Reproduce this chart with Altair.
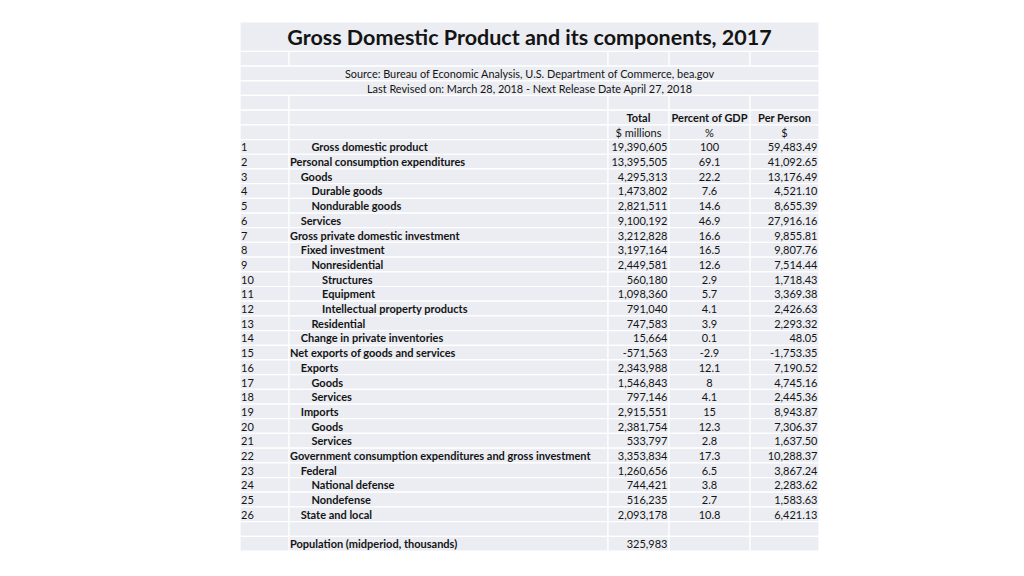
import altair as alt
import pandas as pd

# ---------------- data ----------------
title = "Gross Domestic Product and its components, 2017"
source_lines = [
    "Source: Bureau of Economic Analysis, U.S. Department of Commerce, bea.gov",
    "Last Revised on: March 28, 2018 - Next Release Date April 27, 2018",
]
headers = ["Total", "Percent of GDP", "Per Person"]
units = ["$ millions", "%", "$"]
line_nums = [str(i) for i in range(1, 27)]
labels = [
    "Gross domestic product",
    "Personal consumption expenditures",
    "Goods",
    "Durable goods",
    "Nondurable goods",
    "Services",
    "Gross private domestic investment",
    "Fixed investment",
    "Nonresidential",
    "Structures",
    "Equipment",
    "Intellectual property products",
    "Residential",
    "Change in private inventories",
    "Net exports of goods and services",
    "Exports",
    "Goods",
    "Services",
    "Imports",
    "Goods",
    "Services",
    "Government consumption expenditures and gross investment",
    "Federal",
    "National defense",
    "Nondefense",
    "State and local",
]
levels = [2, 0, 1, 2, 2, 1, 0, 1, 2, 3, 3, 3, 2, 1, 0, 1, 2, 2, 1, 2, 2, 0, 1, 2, 2, 1]
totals = [19390605, 13395505, 4295313, 1473802, 2821511, 9100192, 3212828, 3197164,
          2449581, 560180, 1098360, 791040, 747583, 15664, -571563, 2343988, 1546843,
          797146, 2915551, 2381754, 533797, 3353834, 1260656, 744421, 516235, 2093178]
pct_gdp = [100, 69.1, 22.2, 7.6, 14.6, 46.9, 16.6, 16.5, 12.6, 2.9, 5.7, 4.1, 3.9, 0.1,
           -2.9, 12.1, 8, 4.1, 15, 12.3, 2.8, 17.3, 6.5, 3.8, 2.7, 10.8]
per_person = [59483.49, 41092.65, 13176.49, 4521.10, 8655.39, 27916.16, 9855.81, 9807.76,
              7514.44, 1718.43, 3369.38, 2426.63, 2293.32, 48.05, -1753.35, 7190.52,
              4745.16, 2445.36, 8943.87, 7306.37, 1637.50, 10288.37, 3867.24, 2283.62,
              1583.63, 6421.13]
pop_label = "Population (midperiod, thousands)"
pop_value = 325983

# ---------------- layout ----------------
W, H = 579, 529
N_ROWS = 36
COL_EDGES = [0, 49, 368, 429, 510, 579]
INDENT = 10.7
FILL = "#ebedf2"
INK = "#141414"
FONT = "Lato"
FS = 11
DY = 1.5

cells = []
def full(r0, r1):
    cells.append(dict(x=COL_EDGES[0], x2=COL_EDGES[-1], y=r0, y2=r1))
def split(r):
    for a, b in zip(COL_EDGES[:-1], COL_EDGES[1:]):
        cells.append(dict(x=a, x2=b, y=r, y2=r + 1))

full(0, 2)
split(2)
full(3, 4)
full(4, 5)
for r in range(5, N_ROWS):
    split(r)
cells_df = pd.DataFrame(cells)

DATA_ROW0 = 8
c_label = COL_EDGES[1] + 1
c_tot_r = COL_EDGES[3] - 1.5
c_tot_c = (COL_EDGES[2] + COL_EDGES[3]) / 2
c_pct_c = (COL_EDGES[3] + COL_EDGES[4]) / 2
c_pp_r = COL_EDGES[5] - 1.5
c_pp_c = (COL_EDGES[4] + COL_EDGES[5]) / 2

rows_df = pd.DataFrame({
    "num": line_nums,
    "label": labels,
    "level": levels,
    "total": totals,
    "pct": pct_gdp,
    "pp": per_person,
})
rows_df["y"] = [DATA_ROW0 + i + 0.5 for i in range(len(rows_df))]
rows_df["xl"] = [c_label + INDENT * l for l in levels]
rows_df["xn"] = 1
rows_df["xt"] = c_tot_r
rows_df["xp"] = c_pct_c
rows_df["xpp"] = c_pp_r

pop_df = pd.DataFrame({"label": [pop_label], "total": [pop_value],
                       "y": [N_ROWS - 0.5], "xl": [c_label], "xt": [c_tot_r]})

title_df = pd.DataFrame({"t": [title], "x": [W / 2], "y": [1.0]})
src_df = pd.DataFrame({"t": source_lines, "x": [W / 2] * 2, "y": [3.5, 4.5]})
hdr_df = pd.DataFrame({"t": headers, "x": [c_tot_c, c_pct_c, c_pp_c], "y": [6.5] * 3})
unit_df = pd.DataFrame({"t": units, "x": [c_tot_c, c_pct_c, c_pp_c], "y": [7.5] * 3})

xs = alt.Scale(domain=[0, W], nice=False, zero=False)
ys = alt.Scale(domain=[0, N_ROWS], nice=False, zero=False, reverse=True)

def X(f):
    return alt.X(f, type="quantitative", scale=xs, axis=None)
def Y(f):
    return alt.Y(f, type="quantitative", scale=ys, axis=None)

grid = alt.Chart(cells_df).mark_rect(fill=FILL, stroke="white", strokeWidth=1.2).encode(
    x=X("x"), x2="x2", y=Y("y"), y2="y2")

def txt(df, field, xf, align="left", bold=False, size=FS, fmt=None, dy=DY):
    mk = alt.Chart(df).mark_text(align=align, baseline="middle", font=FONT, fontSize=size,
                                 fontWeight="bold" if bold else "normal", color=INK, dy=dy)
    if fmt:
        expr = "replace(format(datum['%s'], '%s'), '\u2212', '-')" % (field, fmt)
        mk = mk.transform_calculate(txtv=expr)
        t = alt.Text("txtv", type="nominal")
    else:
        t = alt.Text(field, type="nominal")
    return mk.encode(x=X(xf), y=Y("y"), text=t)

layers = [
    grid,
    txt(title_df, "t", "x", align="center", bold=True, size=21.5, dy=2),
    txt(src_df, "t", "x", align="center", size=10.9),
    txt(hdr_df, "t", "x", align="center", bold=True),
    txt(unit_df, "t", "x", align="center"),
    txt(rows_df, "num", "xn"),
    txt(rows_df, "label", "xl", bold=True),
    txt(rows_df, "total", "xt", align="right", fmt=",d"),
    txt(rows_df, "pct", "xp", align="center"),
    txt(rows_df, "pp", "xpp", align="right", fmt=",.2f"),
    txt(pop_df, "label", "xl", bold=True),
    txt(pop_df, "total", "xt", align="right", fmt=",d"),
]

chart = alt.layer(*layers).properties(
    width=W, height=H,
    autosize="none",
    padding={"left": 232, "top": 14, "right": 0, "bottom": 0},
    background="white",
).configure_view(stroke=None)

chart.save("out.html", embed_options={"renderer": "svg", "actions": False})
